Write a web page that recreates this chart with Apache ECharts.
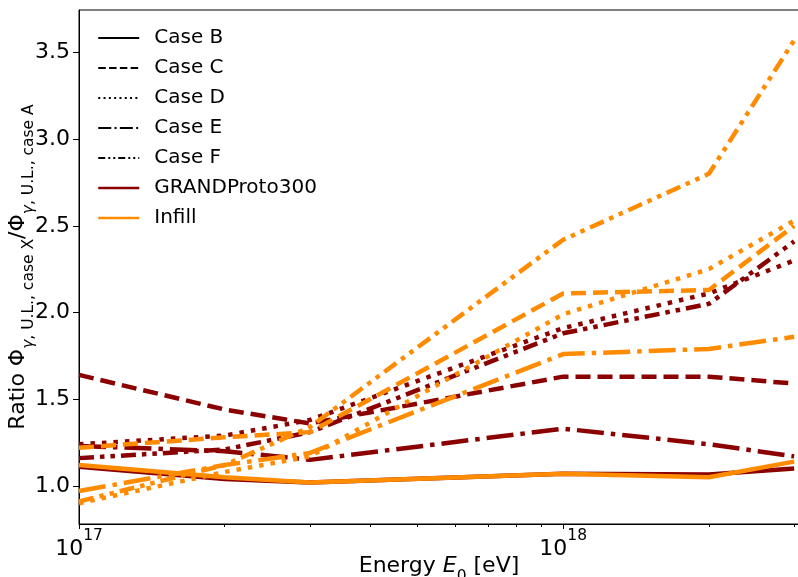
<!DOCTYPE html>
<html>
<head>
<meta charset="utf-8">
<script src="https://cdn.jsdelivr.net/npm/echarts@6/dist/echarts.min.js"></script>
<style>
  html, body { margin: 0; padding: 0; background: #fff; }
  #chart { width: 798px; height: 577px; }
</style>
</head>
<body>
<div id="chart"></div>
<script>
// primary energy E0 [eV]
const energies = [1e17, 2e17, 3e17, 1e18, 2e18, 3e18];

// ratio of upper limits to case A, GRANDProto300
const protoB = [1.11, 1.04, 1.02, 1.07, 1.065, 1.10];
const protoC = [1.64, 1.44, 1.36, 1.63, 1.63, 1.59];
const protoD = [1.24, 1.29, 1.38, 1.91, 2.11, 2.30];
const protoE = [1.23, 1.20, 1.15, 1.33, 1.24, 1.17];
const protoF = [1.16, 1.21, 1.31, 1.88, 2.05, 2.41];

// same for Infill
const infillB = [1.12, 1.05, 1.02, 1.07, 1.05, 1.14];
const infillC = [1.22, 1.28, 1.31, 2.11, 2.13, 2.50];
const infillD = [0.90, 1.08, 1.17, 1.99, 2.25, 2.53];
const infillE = [0.97, 1.12, 1.19, 1.76, 1.79, 1.86];
const infillF = [0.91, 1.12, 1.34, 2.42, 2.80, 3.57];

const yTicks = [1.0, 1.5, 2.0, 2.5, 3.0, 3.5];
const xMajorTicks = [1e17, 1e18];
const xMinorTicks = [2e17, 3e17, 4e17, 5e17, 6e17, 7e17, 8e17, 9e17, 2e18, 3e18];
const caseNames = ['Case B', 'Case C', 'Case D', 'Case E', 'Case F'];

const FONT = 'DejaVu Sans';
const PROTO = '#8b0000';
const INFILL = '#ff8c00';

// matplotlib-like dash patterns, thick plot lines and thin legend handles
const dashPlot = ['solid', [15, 7], [4.5, 7], [27, 7, 4.5, 7], [15, 6, 4.5, 6, 4.5, 6]];
const dashLegend = ['solid', [7.5, 3.3], [2, 3.3], [13, 3.3, 2, 3.3], [7, 3, 2, 3, 2, 3]];

const protoData = [protoB, protoC, protoD, protoE, protoF];
const infillData = [infillB, infillC, infillD, infillE, infillF];

function pairs(vals) {
  return energies.map((e, i) => [e, vals[i]]);
}

const series = [];

// dummy series, only for the black legend handles
caseNames.forEach((name, i) => {
  series.push({
    name: name,
    type: 'line',
    data: [],
    symbol: 'none',
    lineStyle: { color: '#000', width: 2, type: dashLegend[i] }
  });
});

protoData.forEach((vals, i) => {
  series.push({
    name: i === 0 ? 'GRANDProto300' : 'GRANDProto300 ' + caseNames[i],
    type: 'line',
    data: pairs(vals),
    symbol: 'none',
    color: PROTO,
    lineStyle: { color: PROTO, width: 4.5, type: dashPlot[i], cap: 'butt' },
    z: 2
  });
});

infillData.forEach((vals, i) => {
  series.push({
    name: i === 0 ? 'Infill' : 'Infill ' + caseNames[i],
    type: 'line',
    data: pairs(vals),
    symbol: 'none',
    color: INFILL,
    lineStyle: { color: INFILL, width: 4.5, type: dashPlot[i], cap: 'butt' },
    z: 3
  });
});

const legendData = caseNames.map(n => ({ name: n }));
legendData.push({ name: 'GRANDProto300', lineStyle: { width: 2.5 } });
legendData.push({ name: 'Infill', lineStyle: { width: 2.5 } });

const xMin = 1e17;
const xMax = 3.07e18;

const chart = echarts.init(document.getElementById('chart'), null, { renderer: 'canvas' });

chart.setOption({
  animation: false,
  backgroundColor: '#fff',
  textStyle: { fontFamily: FONT },
  grid: {
    left: 79, right: -1, top: 10, bottom: 53,
    outerBoundsMode: 'none',
    containLabel: false,
    show: true, borderColor: '#000', borderWidth: 1
  },
  legend: {
    data: legendData,
    orient: 'vertical',
    left: 97,
    top: 28,
    padding: 0,
    itemWidth: 41,
    itemHeight: 14,
    itemGap: 10,
    selectedMode: false,
    itemStyle: { color: 'transparent', borderWidth: 0, opacity: 0 },
    textStyle: { fontFamily: FONT, fontSize: 20, color: '#000', lineHeight: 20, padding: [0, 0, 0, 10] }
  },
  xAxis: [
    {
      type: 'log',
      min: xMin,
      max: xMax,
      name: '{m|Energy }{i|E}{s|0}{m| [eV]}',
      nameLocation: 'middle',
      nameGap: 31,
      nameMoveOverlap: false,
      nameTextStyle: {
        rich: {
          m: { fontFamily: FONT, fontSize: 22, color: '#000', lineHeight: 30, verticalAlign: 'top' },
          i: { fontFamily: FONT, fontSize: 22, fontStyle: 'italic', color: '#000', lineHeight: 30, verticalAlign: 'top' },
          s: { fontFamily: FONT, fontSize: 15.5, color: '#000', lineHeight: 30, verticalAlign: 'bottom' }
        }
      },
      axisLine: { show: true, lineStyle: { color: '#000', width: 1 } },
      axisTick: { show: true, length: 5, customValues: xMajorTicks, lineStyle: { color: '#000' } },
      axisLabel: {
        customValues: xMajorTicks,
        margin: 4,
        formatter: v => '{a|10}{b|' + Math.round(Math.log10(v)) + '}',
        rich: {
          a: { fontFamily: FONT, fontSize: 22, color: '#000', lineHeight: 32, verticalAlign: 'bottom' },
          b: { fontFamily: FONT, fontSize: 15.5, color: '#000', lineHeight: 32, verticalAlign: 'top' }
        }
      },
      splitLine: { show: false }
    },
    {
      type: 'log',
      min: xMin,
      max: xMax,
      position: 'bottom',
      axisLine: { show: false },
      axisTick: { show: true, length: 3, customValues: xMinorTicks, lineStyle: { color: '#000' } },
      axisLabel: { show: false },
      splitLine: { show: false }
    }
  ],
  yAxis: {
    type: 'value',
    min: 0.78,
    max: 3.745,
    name: '{m|Ratio Φ}{g|γ}{s|, U.L., case X}{m|/Φ}{g|γ}{s|, U.L., case A}',
    nameLocation: 'middle',
    nameGap: 42,
    nameMoveOverlap: false,
    nameTextStyle: {
      rich: {
        m: { fontFamily: FONT, fontSize: 22, color: '#000', lineHeight: 30, verticalAlign: 'top' },
        g: { fontFamily: FONT, fontSize: 15.5, fontStyle: 'italic', color: '#000', lineHeight: 30, verticalAlign: 'bottom' },
        s: { fontFamily: FONT, fontSize: 15.5, color: '#000', lineHeight: 30, verticalAlign: 'bottom' }
      }
    },
    axisLine: { show: true, lineStyle: { color: '#000', width: 1 } },
    axisTick: { show: true, length: 6, customValues: yTicks, lineStyle: { color: '#000' } },
    axisLabel: {
      customValues: yTicks,
      margin: 9,
      fontFamily: FONT,
      fontSize: 22,
      color: '#000',
      formatter: v => v.toFixed(1)
    },
    splitLine: { show: false }
  },
  series: series
});
</script>
</body>
</html>
